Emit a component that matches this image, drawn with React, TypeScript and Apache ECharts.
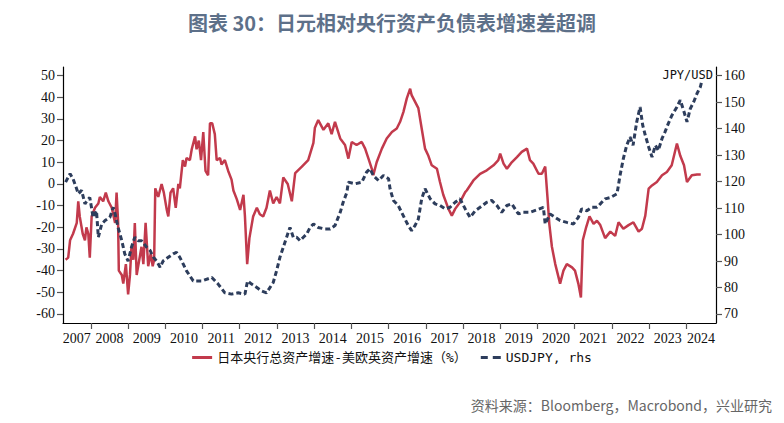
import { useEffect, useRef } from 'react'
import * as echarts from 'echarts'

// ── 文本 ──────────────────────────────────────────────────────────
const TITLE = '图表 30：日元相对央行资产负债表增速差超调'
const SOURCE = '资料来源：Bloomberg，Macrobond，兴业研究'
const SPREAD_NAME = '日本央行总资产增速-美欧英资产增速（%）'
const FX_NAME = 'USDJPY, rhs'
const FX_UNIT = 'JPY/USD'

// ── 坐标刻度 ──────────────────────────────────────────────────────
const yearTicks = [2008, 2009, 2010, 2011, 2012, 2013, 2014, 2015, 2016, 2017, 2018, 2019, 2020, 2021, 2022, 2023, 2024]
const yearLabelPos = [2007.62, 2008.5, 2009.5, 2010.5, 2011.5, 2012.5, 2013.5, 2014.5, 2015.5, 2016.5, 2017.5, 2018.5, 2019.5, 2020.5, 2021.5, 2022.5, 2023.5, 2024.4]
const leftTicks = [-60, -50, -40, -30, -20, -10, 0, 10, 20, 30, 40, 50]
const rightTicks = [70, 80, 90, 100, 110, 120, 130, 140, 150, 160]

// ── 数据：[年份, 值] ───────────────────────────────────────────────
const spread: [number, number][] = [
  [2007.32, -35], [2007.39, -34], [2007.44, -26], [2007.52, -23], [2007.62, -18], [2007.66, -8],
  [2007.70, -15], [2007.78, -23], [2007.84, -26], [2007.88, -20], [2007.93, -23], [2007.97, -34],
  [2008.02, -15], [2008.11, -11], [2008.20, -9], [2008.24, -6], [2008.33, -8], [2008.40, -4],
  [2008.47, -8], [2008.56, -11], [2008.65, -18], [2008.69, -4], [2008.73, -17], [2008.75, -40],
  [2008.83, -42], [2008.87, -46], [2008.94, -37], [2009.00, -51], [2009.05, -42], [2009.09, -29],
  [2009.14, -35], [2009.18, -18], [2009.23, -42], [2009.30, -35], [2009.36, -29], [2009.41, -37],
  [2009.47, -18], [2009.54, -38], [2009.61, -32], [2009.66, -38], [2009.70, -35], [2009.73, -2],
  [2009.81, -6], [2009.90, 0], [2009.96, -4], [2010.04, -12], [2010.08, -15], [2010.14, -4],
  [2010.21, -2], [2010.28, -11], [2010.35, 0], [2010.39, -2], [2010.47, 11], [2010.53, 8],
  [2010.57, 12], [2010.66, 11], [2010.71, 16], [2010.80, 22], [2010.84, 16], [2010.90, 20],
  [2010.96, 11], [2011.02, 24], [2011.08, 6], [2011.15, 4], [2011.20, 28], [2011.26, 28],
  [2011.33, 23], [2011.38, 11], [2011.47, 12], [2011.51, 9], [2011.60, 11], [2011.69, 6],
  [2011.78, 2], [2011.83, -3], [2011.92, -7], [2012.01, -12], [2012.10, -5], [2012.14, -15],
  [2012.20, -37], [2012.26, -25], [2012.36, -15], [2012.46, -11], [2012.54, -14], [2012.63, -15],
  [2012.72, -11], [2012.81, -3], [2012.90, -9], [2012.99, -6], [2013.08, -9], [2013.17, 3],
  [2013.29, 0], [2013.40, -8], [2013.49, 5], [2013.67, 8], [2013.84, 11], [2013.98, 19],
  [2014.02, 26], [2014.11, 29.5], [2014.25, 25], [2014.38, 28], [2014.47, 23], [2014.56, 28.7],
  [2014.70, 21], [2014.83, 18], [2014.92, 11.7], [2015.01, 19.4], [2015.14, 18], [2015.28, 19.4],
  [2015.37, 16.3], [2015.46, 11.7], [2015.55, 7], [2015.59, 4], [2015.68, 10], [2015.82, 16.3],
  [2015.95, 21], [2016.09, 24], [2016.22, 25.6], [2016.31, 28.7], [2016.40, 33.3], [2016.49, 39.5],
  [2016.58, 44], [2016.62, 41], [2016.71, 38], [2016.80, 35], [2016.89, 25.6], [2016.98, 16.3],
  [2017.07, 13], [2017.16, 8.6], [2017.30, 7], [2017.38, 1], [2017.47, -5], [2017.61, -11.5],
  [2017.70, -14.6], [2017.79, -11.5], [2017.92, -8.4], [2018.06, -3.8], [2018.10, -3], [2018.28, 1.6],
  [2018.46, 4.7], [2018.64, 6.3], [2018.82, 8.6], [2018.95, 11], [2019.00, 14], [2019.09, 9.4],
  [2019.18, 7], [2019.31, 10], [2019.45, 12.4], [2019.58, 14.8], [2019.72, 16.3], [2019.80, 11],
  [2019.89, 9.4], [2020.03, 4.7], [2020.12, 4.7], [2020.21, 8], [2020.27, -6], [2020.32, -18.4],
  [2020.39, -29], [2020.48, -37], [2020.61, -46], [2020.70, -40], [2020.79, -37], [2020.93, -38.5],
  [2021.01, -40], [2021.10, -46], [2021.17, -52.4], [2021.22, -26], [2021.31, -20], [2021.40, -15],
  [2021.51, -18.4], [2021.60, -17], [2021.69, -19], [2021.82, -25], [2021.96, -22], [2022.09, -24],
  [2022.18, -17.7], [2022.31, -20.7], [2022.45, -19], [2022.58, -17.7], [2022.72, -22], [2022.81, -20.7],
  [2022.90, -14.6], [2022.99, -2.2], [2023.08, -0.7], [2023.21, 0.9], [2023.35, 4], [2023.48, 5.5],
  [2023.61, 8.6], [2023.75, 18.7], [2023.84, 13], [2023.94, 8.6], [2024.02, 0.9], [2024.15, 4],
  [2024.29, 4.4], [2024.39, 4.4],
]

const usdjpy: [number, number][] = [
  [2007.32, 119.8], [2007.44, 123], [2007.52, 121], [2007.60, 118], [2007.66, 115.4], [2007.75, 116.7],
  [2007.84, 111.6], [2007.90, 112.9], [2007.97, 114], [2008.06, 106.5], [2008.15, 109], [2008.20, 99],
  [2008.29, 104], [2008.38, 105.3], [2008.51, 106.5], [2008.60, 110.3], [2008.65, 107.8], [2008.73, 102.7],
  [2008.83, 97.7], [2008.91, 92.7], [2009.00, 90], [2009.09, 95.2], [2009.18, 99], [2009.27, 97.7],
  [2009.36, 97.7], [2009.50, 95.2], [2009.59, 94], [2009.68, 91.4], [2009.77, 90], [2009.86, 87.6],
  [2009.94, 90], [2010.08, 91.4], [2010.21, 92.7], [2010.30, 93.3], [2010.39, 91.4], [2010.48, 88.9],
  [2010.57, 86.3], [2010.75, 82.5], [2010.98, 82.5], [2011.25, 83.8], [2011.42, 81.3], [2011.60, 78],
  [2011.78, 77.5], [2011.96, 78], [2012.14, 77.5], [2012.21, 82.5], [2012.32, 81.3], [2012.46, 80],
  [2012.59, 78.7], [2012.72, 78], [2012.90, 81.9], [2012.99, 86.3], [2013.08, 91.4], [2013.17, 95.2],
  [2013.26, 99], [2013.35, 102.7], [2013.44, 99], [2013.53, 99], [2013.62, 97.7], [2013.71, 99],
  [2013.80, 100.2], [2013.89, 102.7], [2013.98, 104], [2014.11, 102.7], [2014.29, 102.1], [2014.43, 102.1],
  [2014.56, 103.4], [2014.70, 108.4], [2014.78, 112.2], [2014.88, 116], [2014.92, 119.8], [2015.10, 119.2],
  [2015.28, 119.8], [2015.41, 123.6], [2015.50, 124.9], [2015.59, 122.3], [2015.73, 120.4], [2015.86, 122.3],
  [2016.00, 121.1], [2016.04, 117.3], [2016.13, 112.9], [2016.26, 111], [2016.35, 108.4], [2016.44, 105.9],
  [2016.53, 103.4], [2016.62, 101.5], [2016.71, 103.4], [2016.80, 105.9], [2016.89, 113.5], [2016.98, 117.3],
  [2017.12, 113.5], [2017.25, 111.6], [2017.38, 111], [2017.52, 109.7], [2017.65, 110.3], [2017.79, 112.2],
  [2017.92, 113.5], [2018.06, 109.7], [2018.19, 106.5], [2018.33, 109], [2018.46, 110.3], [2018.64, 112.2],
  [2018.77, 112.9], [2018.91, 111], [2019.04, 108.4], [2019.18, 111], [2019.31, 111.6], [2019.49, 107.8],
  [2019.62, 108.4], [2019.80, 108.4], [2019.98, 109.3], [2020.16, 110.3], [2020.21, 104], [2020.34, 107.8],
  [2020.48, 106.5], [2020.61, 105.3], [2020.79, 104.6], [2020.97, 104], [2021.10, 106.5], [2021.19, 109.7],
  [2021.33, 109], [2021.46, 110.3], [2021.60, 110.3], [2021.69, 111.6], [2021.82, 113.5], [2021.96, 114],
  [2022.14, 115.4], [2022.22, 122.3], [2022.31, 128.7], [2022.40, 133.7], [2022.49, 136.9], [2022.57, 133.7],
  [2022.67, 142.6], [2022.76, 148.2], [2022.83, 141.3], [2022.90, 137.5], [2022.99, 133.1], [2023.08, 129.3],
  [2023.17, 133.7], [2023.25, 131.8], [2023.35, 136.3], [2023.43, 138.8], [2023.52, 142], [2023.61, 144.9],
  [2023.75, 148.2], [2023.84, 150.8], [2023.94, 146.4], [2024.02, 142.6], [2024.11, 147.6], [2024.20, 150.1],
  [2024.29, 153.3], [2024.38, 155.8], [2024.41, 157.5],
]

const RED = '#c23a4c'
const NAVY = '#2d3d5c'
const SERIF = '"Liberation Serif", "DejaVu Serif", serif'
const MONO = '"DejaVu Sans Mono", "Noto Sans CJK SC", monospace'
const CJK = '"Noto Sans CJK SC", sans-serif'

const axisLabelBase = { color: '#111', fontSize: 14, fontFamily: SERIF }
const tickBase = { show: true, length: 6, lineStyle: { color: '#555', width: 1.2 } }
const axisLineBase = { show: true, onZero: false, lineStyle: { color: '#000', width: 1.2 } }

function buildOption(): echarts.EChartsOption {
  return {
    animation: false,
    backgroundColor: '#fff',
    title: {
      text: TITLE,
      left: 'center',
      top: 7,
      textStyle: { fontSize: 20, fontWeight: 'bold', color: '#5d7089', fontFamily: CJK },
    },
    grid: { left: 63, right: 68, top: 67, bottom: 100 },
    legend: {
      left: 'center',
      top: 346,
      itemWidth: 20,
      itemHeight: 3,
      itemGap: 14,
      textStyle: { color: '#111', fontSize: 13, fontFamily: MONO },
      data: [
        { name: SPREAD_NAME, icon: 'rect' },
        { name: FX_NAME, icon: 'path://M0,0h7v3h-7z M12,0h8v3h-8z' },
      ],
    },
    xAxis: {
      type: 'value',
      min: 2007.25,
      max: 2024.8,
      axisLine: axisLineBase,
      axisTick: { ...tickBase, customValues: yearTicks },
      axisLabel: {
        ...axisLabelBase,
        margin: 8,
        customValues: yearLabelPos,
        formatter: (v: number) => String(Math.floor(v + 1e-6)),
      },
      splitLine: { show: false },
    },
    yAxis: [
      {
        type: 'value',
        position: 'left',
        min: -64.2,
        max: 54,
        axisLine: axisLineBase,
        axisTick: { ...tickBase, customValues: leftTicks },
        axisLabel: { ...axisLabelBase, margin: 8, customValues: leftTicks },
        splitLine: { show: false },
      },
      {
        type: 'value',
        position: 'right',
        min: 66.6,
        max: 163.3,
        axisLine: axisLineBase,
        axisTick: { ...tickBase, customValues: rightTicks },
        axisLabel: { ...axisLabelBase, margin: 8, customValues: rightTicks },
        splitLine: { show: false },
      },
    ],
    graphic: [
      {
        type: 'text',
        x: 713,
        y: 75,
        style: { text: FX_UNIT, align: 'right', verticalAlign: 'middle', font: '12px "DejaVu Sans Mono", monospace', fill: '#111' },
      },
      {
        type: 'text',
        x: 772,
        y: 405,
        style: { text: SOURCE, align: 'right', verticalAlign: 'middle', font: '14px "Noto Sans CJK SC", sans-serif', fill: '#666' },
      },
    ],
    series: [
      {
        name: SPREAD_NAME,
        type: 'line',
        yAxisIndex: 0,
        data: spread,
        symbol: 'none',
        lineStyle: { color: RED, width: 2.5 },
        itemStyle: { color: RED },
      },
      {
        name: FX_NAME,
        type: 'line',
        yAxisIndex: 1,
        data: usdjpy,
        symbol: 'none',
        lineStyle: { color: NAVY, width: 3, type: [5, 3] },
        itemStyle: { color: NAVY },
      },
    ],
  } as echarts.EChartsOption
}

export default function App() {
  const ref = useRef<HTMLDivElement>(null)

  useEffect(() => {
    if (!ref.current) return
    const chart = echarts.init(ref.current, undefined, { renderer: 'svg' })
    chart.setOption(buildOption())
    return () => chart.dispose()
  }, [])

  return (
    <div
      ref={ref}
      style={{ position: 'absolute', left: 0, top: 0, width: 784, height: 423 }}
    />
  )
}
